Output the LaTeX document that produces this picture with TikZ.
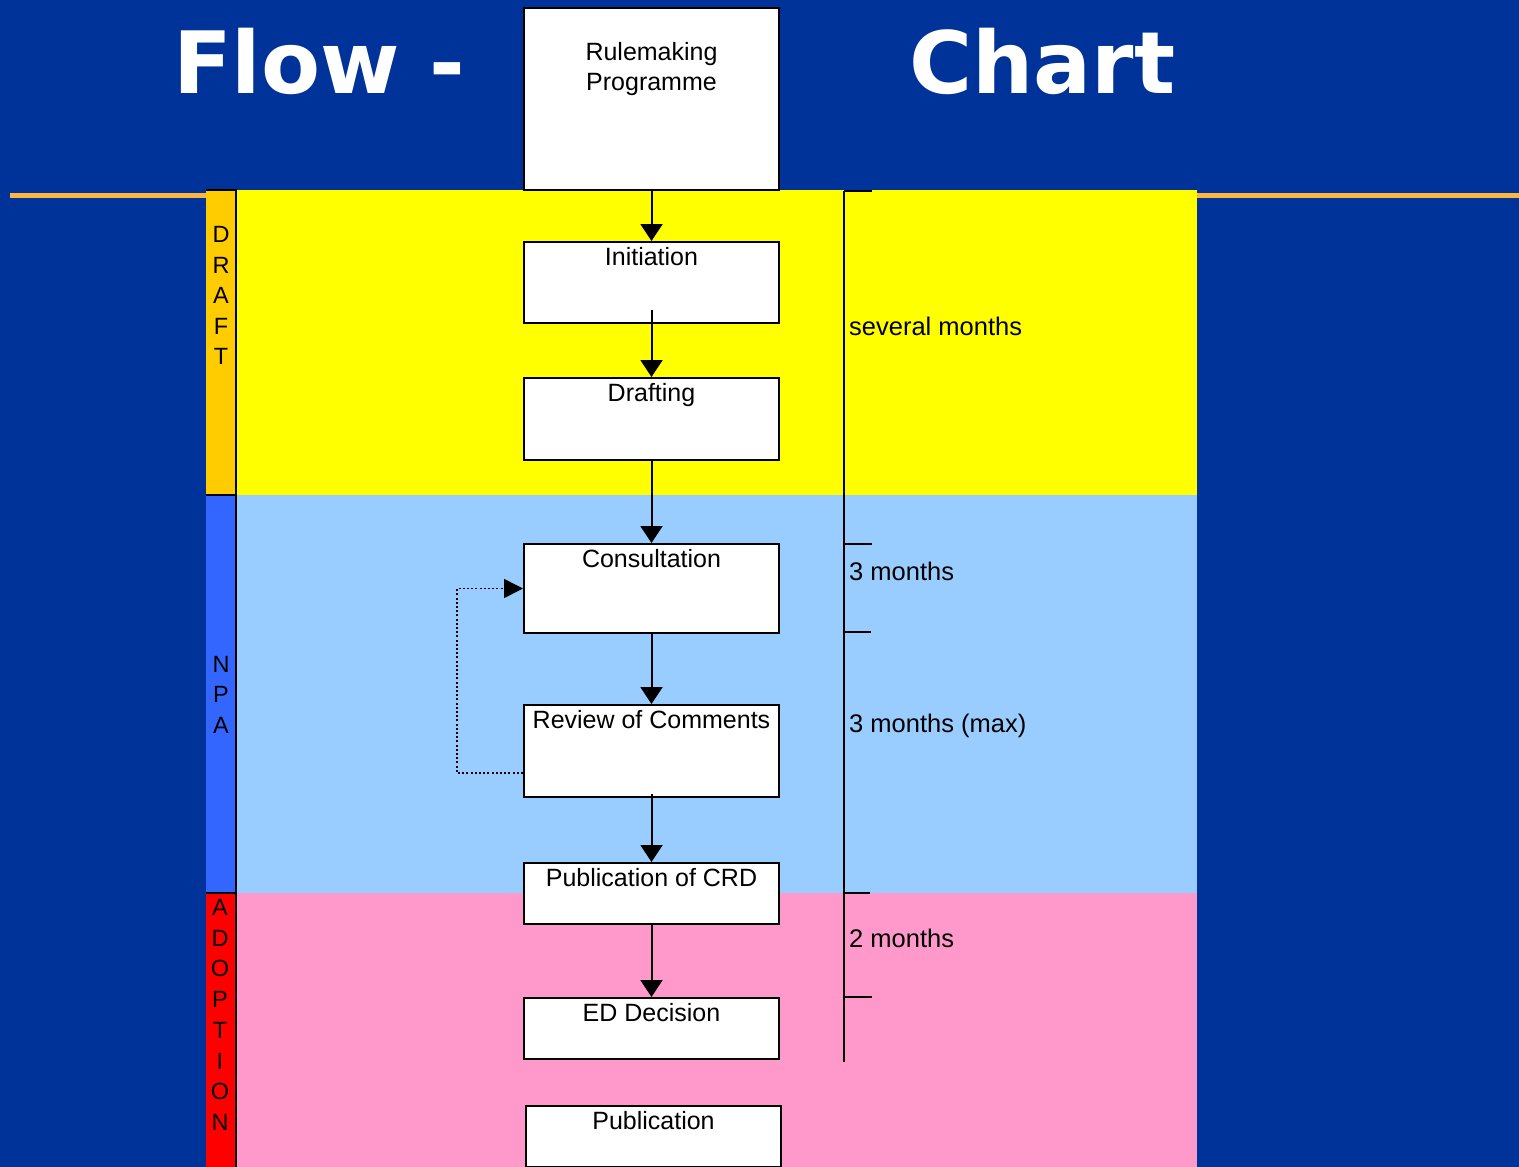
\documentclass[tikz,border=0pt]{standalone}
\usepackage{fontspec}
\setmainfont{Liberation Sans}
\newfontfamily\titlefont{DejaVu Sans}
\usetikzlibrary{arrows.meta}
\definecolor{bgblue}{RGB}{0,51,153}
\definecolor{ruleorange}{RGB}{255,182,62}
\definecolor{bandyellow}{RGB}{255,255,0}
\definecolor{bandblue}{RGB}{153,204,255}
\definecolor{bandpink}{RGB}{255,153,204}
\definecolor{striporange}{RGB}{255,204,0}
\definecolor{stripblue}{RGB}{51,102,255}
\definecolor{stripred}{RGB}{255,0,0}
\tikzset{
  box/.style={draw=black, line width=2pt, fill=white, minimum width=255pt, anchor=north, inner sep=0pt},
  boxtxt/.style={anchor=north, inner sep=0pt, yshift=-6pt, font=\fontsize{25}{30}\selectfont, align=center, text=black},
  flow/.style={line width=2pt, draw=black, -{Triangle[length=17pt,width=22pt]}},
  loopback/.style={line width=1.6pt, draw=black, dash pattern=on 2pt off 2.2pt, -{Triangle[length=19pt,width=19pt]}},
  tl/.style={line width=2pt, draw=black},
  tltext/.style={anchor=base west, inner sep=0pt, font=\fontsize{25.5}{30}\selectfont, text=black},
  phase/.style={anchor=north, inner sep=0pt, align=center, text=black},
  titletxt/.style={anchor=base west, inner sep=0pt, text=white, font=\titlefont\bfseries\fontsize{86}{90}\selectfont}
}
\begin{document}
\begin{tikzpicture}[x=1pt,y=-1pt]
\useasboundingbox (0,0) rectangle (1519,1167);
\fill[bgblue] (0,0) rectangle (1519,1167);
% orange rule line
\draw[ruleorange, line width=5pt] (10,195) -- (1519,195);
% bands
\fill[bandyellow] (236,190) rectangle (1197,495);
\fill[bandblue] (236,495) rectangle (1197,893);
\fill[bandpink] (236,893) rectangle (1197,1167);
% phase strip
\fill[striporange] (206,190) rectangle (236,495);
\fill[stripblue] (206,495) rectangle (236,893);
\fill[stripred] (206,893) rectangle (236,1167);
\draw[line width=2pt] (206,190) -- (236,190) -- (236,1167);
\draw[line width=2pt] (206,495) -- (236,495);
\draw[line width=2pt] (206,893) -- (236,893);
\node[phase, font=\fontsize{23.5}{30.5}\selectfont] (pdraft) at (221,226.2) {D\\R\\A\\F\\T};
\node[phase, font=\fontsize{23.5}{30.5}\selectfont] (pnpa) at (221,655.7) {N\\P\\A};
\node[phase, font=\fontsize{23.5}{30.7}\selectfont] (padopt) at (220,899.2) {A\\D\\O\\P\\T\\I\\O\\N};
% title
\node[titletxt] (tflow) at (173,93) {Flow -};
\node[titletxt] (tchart) at (909,93) {Chart};
% boxes
\node[box, minimum height=182pt, label={[boxtxt, yshift=-29pt]north:Rulemaking\\Programme}] (rule) at (651.5,7) {};
\node[box, minimum height=81pt, label={[boxtxt]north:Initiation}] (init) at (651.5,241) {};
\node[box, minimum height=82pt, label={[boxtxt]north:Drafting}] (draft) at (651.5,377) {};
\node[box, minimum height=89pt, label={[boxtxt]north:Consultation}] (consult) at (651.5,543) {};
\node[box, minimum height=92pt, label={[boxtxt]north:Review of Comments}] (review) at (651.5,704) {};
\node[box, minimum height=61pt, label={[boxtxt]north:Publication of CRD}] (crd) at (651.5,862) {};
\node[box, minimum height=61pt, label={[boxtxt]north:ED Decision}] (ed) at (651.5,997) {};
\node[box, minimum height=61pt, label={[boxtxt]north:Publication}] (pub) at (653.5,1105) {};
% connectors
\draw[flow] (rule.south) -- (init.north);
\draw[flow] ([yshift=14pt]init.south) -- (draft.north);
\draw[flow] (draft.south) -- (consult.north);
\draw[flow] (consult.south) -- (review.north);
\draw[flow] ([yshift=4pt]review.south) -- (crd.north);
\draw[flow] (crd.south) -- (ed.north);
\draw[loopback] ([yshift=-22pt]review.west) -- ++(-66,0) |- (consult.west);
% timeline
\draw[tl] (844,191) -- (844,1062);
\draw[tl] (844,191) -- (872,191);
\draw[tl] (844,544) -- (872,544);
\draw[tl] (844,632) -- (871,632);
\draw[tl] (844,893) -- (870,893);
\draw[tl] (844,997) -- (872,997);
\node[tltext] (lsev) at (849,335) {several months};
\node[tltext] (l3a) at (849,580) {3 months};
\node[tltext] (l3b) at (849,732) {3 months (max)};
\node[tltext] (l2) at (849,947) {2 months};
\end{tikzpicture}
\end{document}
